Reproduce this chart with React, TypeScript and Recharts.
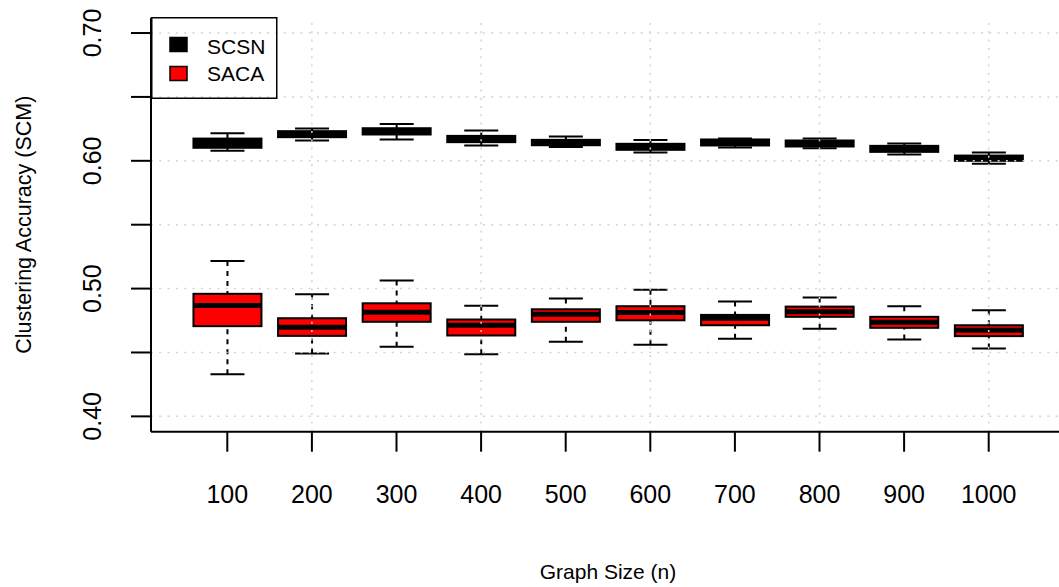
import React from 'react';
import { ComposedChart, Bar, XAxis, YAxis, ReferenceLine, Legend } from 'recharts';

const categories = ['100', '200', '300', '400', '500', '600', '700', '800', '900', '1000'];

const scsnMin = [0.6078, 0.6159, 0.6166, 0.612, 0.6109, 0.6065, 0.6104, 0.6099, 0.6049, 0.5977];
const scsnQ1 = [0.6102, 0.6185, 0.6206, 0.6146, 0.6122, 0.6086, 0.612, 0.6112, 0.607, 0.6];
const scsnMedian = [0.6127, 0.6211, 0.623, 0.6172, 0.6145, 0.6109, 0.6145, 0.6137, 0.6094, 0.6023];
const scsnQ3 = [0.6174, 0.6232, 0.6255, 0.6195, 0.6164, 0.6133, 0.6167, 0.6159, 0.6117, 0.6041];
const scsnMax = [0.6216, 0.6252, 0.6289, 0.6237, 0.619, 0.6162, 0.6174, 0.6174, 0.6135, 0.6065];

const sacaMin = [0.433, 0.4492, 0.4544, 0.4487, 0.4584, 0.456, 0.4607, 0.4685, 0.4602, 0.4531];
const sacaQ1 = [0.4706, 0.463, 0.474, 0.4633, 0.474, 0.4752, 0.4713, 0.4779, 0.4693, 0.4628];
const sacaMedian = [0.4867, 0.4698, 0.4814, 0.4713, 0.4799, 0.4813, 0.4767, 0.4819, 0.4736, 0.4673];
const sacaQ3 = [0.4959, 0.4768, 0.4885, 0.4758, 0.4838, 0.4862, 0.4794, 0.4859, 0.4779, 0.4713];
const sacaMax = [0.5216, 0.4955, 0.5063, 0.4865, 0.4922, 0.499, 0.4898, 0.493, 0.4862, 0.483];

const yTicks = [0.4, 0.45, 0.5, 0.55, 0.6, 0.65, 0.7];
const yTickLabels = ['0.40', '', '0.50', '', '0.60', '', '0.70'];
const verticalGridCats = ['200', '400', '600', '800', '1000'];
const seriesNames = ['SCSN', 'SACA'];
const seriesColors = ['#000000', '#ff0000'];

const FONT = '"Liberation Sans", Arial, Helvetica, sans-serif';
const GRID = '#d3d3d3';

const data = categories.map((n, i) => ({
  n,
  scsn: { min: scsnMin[i], q1: scsnQ1[i], median: scsnMedian[i], q3: scsnQ3[i], max: scsnMax[i] },
  saca: { min: sacaMin[i], q1: sacaQ1[i], median: sacaMedian[i], q3: sacaQ3[i], max: sacaMax[i] },
  scsnRange: [scsnMin[i], scsnMax[i]],
  sacaRange: [sacaMin[i], sacaMax[i]],
}));

const makeBoxShape = (key: 'scsn' | 'saca', fill: string) => (props: any) => {
  const { x, y, width, height, payload } = props;
  const s = payload[key];
  const top = Math.min(y, y + height);
  const h = Math.abs(height);
  const ppu = h / (s.max - s.min);
  const yOf = (v: number) => top + (s.max - v) * ppu;
  const cx = x + width / 2;
  const capHalf = width / 4;
  return (
    <g>
      <line x1={cx} x2={cx} y1={yOf(s.max)} y2={yOf(s.q3)} stroke="#000" strokeWidth={2} strokeDasharray="5 5" />
      <line x1={cx} x2={cx} y1={yOf(s.min)} y2={yOf(s.q1)} stroke="#000" strokeWidth={2} strokeDasharray="5 5" />
      <line x1={cx - capHalf} x2={cx + capHalf} y1={yOf(s.max)} y2={yOf(s.max)} stroke="#000" strokeWidth={2} />
      <line x1={cx - capHalf} x2={cx + capHalf} y1={yOf(s.min)} y2={yOf(s.min)} stroke="#000" strokeWidth={2} />
      <rect x={x} y={yOf(s.q3)} width={width} height={yOf(s.q1) - yOf(s.q3)} fill={fill} stroke="#000" strokeWidth={2} />
      <line x1={x} x2={x + width} y1={yOf(s.median)} y2={yOf(s.median)} stroke="#000" strokeWidth={5} />
    </g>
  );
};

const XTick = (props: any) => {
  const { x, y, payload } = props;
  return (
    <text x={x} y={y + 51} textAnchor="middle" fontSize={25} fontFamily={FONT} fill="#000">
      {payload.value}
    </text>
  );
};

const YTick = (props: any) => {
  const { x, y, payload } = props;
  const idx = yTicks.findIndex((v) => Math.abs(v - payload.value) < 1e-9);
  const label = idx >= 0 ? yTickLabels[idx] : '';
  if (!label) return <g />;
  return (
    <text transform={`translate(${x - 30}, ${y}) rotate(-90)`} textAnchor="middle" fontSize={25} fontFamily={FONT} fill="#000">
      {label}
    </text>
  );
};

const YTitle = (props: any) => {
  const vb = props.viewBox;
  return (
    <text transform={`translate(${vb.x + 31}, ${vb.y + vb.height / 2}) rotate(-90)`} textAnchor="middle" fontSize={21.5} fontFamily={FONT} fill="#000">
      Clustering Accuracy (SCM)
    </text>
  );
};

const XTitle = (props: any) => {
  const vb = props.viewBox;
  return (
    <text x={vb.x + vb.width / 2} y={vb.y + 147} textAnchor="middle" fontSize={21} fontFamily={FONT} fill="#000">
      Graph Size (n)
    </text>
  );
};

const renderLegend = () => (
  <svg width={128} height={83} style={{ display: 'block', overflow: 'visible' }}>
    <rect x={0.75} y={0.75} width={125} height={80.5} fill="none" stroke="#000" strokeWidth={1.5} />
    {seriesNames.map((name, i) => (
      <g key={name}>
        <rect x={19} y={20.5 + i * 29} width={17} height={14} fill={seriesColors[i]} stroke="#000" strokeWidth={1.5} />
        <text x={56} y={36.5 + i * 27.5} fontSize={21} fontFamily={FONT} fill="#000">
          {name}
        </text>
      </g>
    ))}
  </svg>
);

export default function App() {
  return (
    <div style={{ position: 'absolute', left: 0, top: 0, width: 1059, height: 587, background: '#fff' }}>
      <ComposedChart
        width={1059}
        height={587}
        data={data}
        margin={{ top: 17.7, right: -6, bottom: 0, left: 0 }}
        barCategoryGap="10%"
        style={{ fontFamily: FONT }}
      >
        <XAxis
          xAxisId="a"
          dataKey="n"
          type="category"
          padding={{ left: 34, right: 34 }}
          height={155.3}
          tickSize={20}
          tickMargin={0}
          interval={0}
          tickLine={{ stroke: '#000', strokeWidth: 2 }}
          axisLine={{ stroke: '#000', strokeWidth: 2 }}
          tick={<XTick />}
          label={<XTitle />}
        />
        <XAxis
          xAxisId="b"
          dataKey="n"
          type="category"
          orientation="top"
          padding={{ left: 34, right: 34 }}
          height={0}
          tick={false}
          tickLine={false}
          axisLine={{ stroke: '#000', strokeWidth: 2 }}
        />
        <YAxis
          type="number"
          domain={[0.388, 0.712]}
          allowDataOverflow
          ticks={yTicks}
          interval={0}
          width={151}
          tickSize={20}
          tickMargin={0}
          tickLine={{ stroke: '#000', strokeWidth: 2 }}
          axisLine={{ stroke: '#000', strokeWidth: 2 }}
          tick={<YTick />}
          label={<YTitle />}
        />
        <Bar xAxisId="a" dataKey="scsnRange" name="SCSN" fill="#000" isAnimationActive={false} shape={makeBoxShape('scsn', '#000000')} />
        <Bar xAxisId="b" dataKey="sacaRange" name="SACA" fill="#ff0000" isAnimationActive={false} shape={makeBoxShape('saca', '#ff0000')} />
        {yTicks.map((v) => (
          <ReferenceLine key={`h${v}`} xAxisId="a" y={v} stroke={GRID} strokeWidth={1.5} strokeDasharray="2 6.3" />
        ))}
        {verticalGridCats.map((c) => (
          <ReferenceLine key={`v${c}`} xAxisId="a" x={c} stroke={GRID} strokeWidth={1.5} strokeDasharray="2 6.3" />
        ))}
        <Legend
          layout="horizontal"
          align="center"
          verticalAlign="middle"
          content={renderLegend}
          wrapperStyle={{ position: 'absolute', left: 151, top: 17, width: 128, height: 83 }}
        />
      </ComposedChart>
    </div>
  );
}
